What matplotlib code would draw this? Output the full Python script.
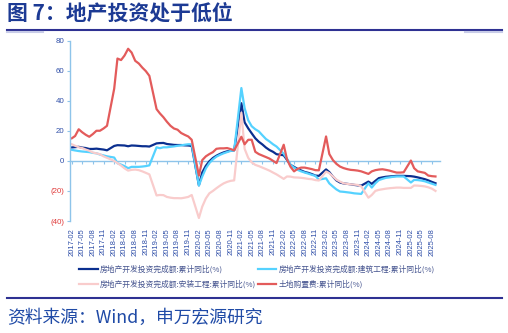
import matplotlib
matplotlib.use('Agg')
import matplotlib.pyplot as plt
from matplotlib.lines import Line2D
import pandas as pd

plt.rcParams['font.family'] = ['Noto Sans CJK SC', 'DejaVu Sans']

# monthly cumulative data, Feb 2017 .. Sep 2025 (no January release)
months = [d for d in pd.date_range('2017-02-01', '2025-09-01', freq='MS') if d.month != 1]
tick_months = pd.date_range('2017-02-01', '2025-08-01', freq='3MS')
tick_labels = [d.strftime('%Y-%m') for d in tick_months]

labels = ['房地产开发投资完成额:累计同比(%)',
          '房地产开发投资完成额:建筑工程:累计同比(%)',
          '房地产开发投资完成额:安装工程:累计同比(%)',
          '土地购置费:累计同比(%)']

total = [8.9, 9.1, 9.3, 8.8, 8.5, 7.9, 7.9, 8.1, 7.8, 7.5, 7.0,            # 2017
         9.9, 10.4, 10.3, 10.2, 9.7, 10.2, 10.1, 9.9, 9.7, 9.7, 9.5,       # 2018
         11.6, 11.8, 11.9, 11.2, 10.9, 10.6, 10.5, 10.5, 10.3, 10.2, 9.9,  # 2019
         -16.3, -7.7, -3.3, -0.3, 1.9, 3.4, 4.6, 5.6, 6.3, 6.8, 7.0,       # 2020
         38.3, 25.6, 21.6, 18.3, 15.0, 12.7, 10.9, 8.8, 7.2, 6.0, 4.4,     # 2021
         3.7, 0.7, -2.7, -4.0, -5.4, -6.4, -7.4, -8.0, -8.8, -9.8, -10.0,  # 2022
         -5.7, -7.5, -10.5, -13.0, -14.4, -15.0, -15.3, -15.6, -16.0, -16.3, -16.5,
         -13.8, -15.3, -13.3, -11.5, -11.0, -10.6, -10.4, -10.2, -10.0, -10.0, -10.0,
         -10.2, -10.5, -11.0, -11.6, -12.2, -13.0, -14.0, -14.9]

building = [7.3, 6.9, 6.5, 6.2, 6.0, 5.8, 5.3, 5.0, 4.2, 3.6, 3.0,
            2.2, -1.6, -2.5, -3.5, -4.9, -4.0, -4.0, -4.0, -3.8, -3.5, -3.0,
            9.0, 8.4, 9.0, 9.0, 9.3, 9.6, 10.0, 10.3, 10.7, 11.0, 11.0,
            -16.4, -10.4, -5.0, -1.5, 1.0, 2.8, 4.0, 5.0, 5.8, 6.6, 7.0,
            48.4, 35.0, 27.0, 23.0, 21.0, 19.6, 17.0, 14.5, 12.9, 11.0, 9.5,
            4.7, 1.5, -2.7, -4.5, -6.0, -7.0, -7.8, -8.5, -9.3, -10.0, -12.5,
            -11.6, -15.0, -17.1, -19.0, -20.4, -20.6, -20.9, -21.2, -21.6, -21.8, -22.0,
            -14.9, -17.8, -14.9, -12.8, -12.0, -11.3, -11.0, -10.6, -10.4, -10.4, -10.4,
            -14.4, -12.7, -12.8, -13.1, -13.6, -14.4, -15.2, -16.0]

install = [11.0, 10.0, 9.0, 8.5, 7.5, 6.7, 5.5, 5.0, 4.4, 3.0, 2.0,
           0.0, -1.5, -3.1, -5.0, -6.5, -6.0, -5.8, -6.2, -7.0, -8.0, -9.0,
           -23.0, -22.7, -22.8, -24.0, -24.5, -24.8, -24.8, -24.9, -24.5, -24.0, -22.7,
           -38.0, -30.4, -25.0, -21.6, -20.0, -18.2, -16.5, -15.0, -14.0, -13.3, -13.0,
           32.0, 8.0, 2.0, -1.0, -2.7, -3.5, -4.5, -5.5, -6.5, -7.8, -9.0,
           -12.0, -10.4, -10.5, -11.0, -11.1, -11.3, -11.6, -12.0, -12.2, -12.8, -13.1,
           -7.1, -8.2, -10.4, -12.5, -13.8, -14.9, -15.3, -15.6, -15.8, -16.0, -17.0,
           -24.5, -22.7, -20.0, -19.3, -18.9, -18.5, -18.2, -18.0, -17.8, -17.8, -18.0,
           -18.0, -16.4, -16.5, -16.7, -17.0, -17.6, -18.5, -20.0]

land = [15.0, 16.5, 21.0, 19.0, 17.3, 16.0, 17.8, 20.0, 20.0, 21.5, 23.3,
        48.0, 68.0, 67.0, 70.0, 74.5, 72.0, 66.5, 64.7, 62.0, 59.6, 56.5,
        34.4, 31.6, 29.0, 26.0, 23.3, 21.5, 20.7, 18.5, 17.3, 16.2, 14.0,
        -9.8, 0.5, 3.0, 4.5, 5.8, 8.0, 8.3, 8.3, 8.5, 7.8, 7.0,
        16.0, 11.0, 14.0, 14.0, 6.0, 4.5, 3.5, 2.5, 1.5, 0.0, -1.5,
        10.7, 1.0, -4.0, -7.0, -5.3, -4.5, -4.5, -5.0, -5.5, -6.2, -6.3,
        16.2, 4.5, 0.5, -2.0, -3.8, -4.8, -5.5, -6.0, -6.2, -6.5, -7.0,
        -8.7, -7.0, -6.2, -5.8, -5.6, -6.0, -6.5, -7.2, -7.8, -7.8, -7.6,
        0.2, -4.9, -7.0, -7.5, -8.0, -9.8, -10.2, -10.4]

colors = ['#0b2f8f', '#55d2ff', '#f9cccc', '#e35b5b']
axis_blue = '#8ec4ea'
text_blue = '#2f4fa8'
navy = '#2e3192'

fig = plt.figure(figsize=(5.08, 3.33), dpi=100)
ax = fig.add_axes([70 / 508, 1 - 221 / 333, 370 / 508, 180.5 / 333])

handles = []
for series, c in zip([total, building, install, land], colors):
    h, = ax.plot(months, series, color=c, lw=1.6, solid_joinstyle='round')
    handles.append(h)

ax.set_ylim(-40, 80)
ax.set_xlim(pd.Timestamp('2017-01-16'), pd.Timestamp('2025-10-10'))
ax.set_yticks(range(-40, 81, 20))
ax.set_yticklabels(['(%d)' % -v if v < 0 else str(v) for v in range(-40, 81, 20)],
                   family='Liberation Sans', fontsize=5.7)
for t, v in zip(ax.get_yticklabels(), range(-40, 81, 20)):
    t.set_color('#e03a3a' if v < 0 else text_blue)
ax.tick_params(axis='y', length=2, color=axis_blue, pad=2)

ax.set_xticks(tick_months)
ax.set_xticklabels(tick_labels, rotation=90, family='Liberation Sans', fontsize=5.5, color=text_blue)
ax.tick_params(axis='x', length=0, pad=5)

for s in ['top', 'right', 'bottom']:
    ax.spines[s].set_visible(False)
ax.spines['left'].set_color(axis_blue)
ax.spines['left'].set_linewidth(1)

# zero line with its own tick marks
zero = ax.secondary_xaxis(1 / 3)
zero.set_xticks(tick_months)
zero.tick_params(axis='x', direction='out', length=2.5, color=axis_blue, labelbottom=False)
zero.spines['bottom'].set_color(axis_blue)
zero.spines['bottom'].set_linewidth(1)

order = [0, 2, 1, 3]
fig.legend([handles[i] for i in order], [labels[i] for i in order], ncol=2,
           loc='upper left', bbox_to_anchor=(79 / 508, 1 - 265 / 333), frameon=False,
           fontsize=5.6, handlelength=2.4, handletextpad=0.3, columnspacing=0.2,
           labelspacing=0.85, borderpad=0, borderaxespad=0, labelcolor='#45548f')

fig.text(7 / 508, 1 - 13 / 333, '图 7：地产投资处于低位', fontsize=15, fontweight='bold',
         color='#1c3a94', va='center', ha='left')
fig.add_artist(Line2D([7 / 508, 502 / 508], [1 - 30 / 333] * 2, color=navy, lw=1.5))
fig.add_artist(Line2D([7 / 508, 43 / 508], [1 - 32 / 333] * 2, color='#c8cce8', lw=1.5))
fig.add_artist(Line2D([465 / 508, 502 / 508], [1 - 32 / 333] * 2, color='#c8cce8', lw=1.5))
fig.add_artist(Line2D([7 / 508, 502 / 508], [1 - 298 / 333] * 2, color=navy, lw=1.5))
fig.text(7 / 508, 1 - 318 / 333, '资料来源：Wind，申万宏源研究', fontsize=12.8,
         color='#1f4aa6', va='center', ha='left')

fig.savefig('out.png', dpi=100)
